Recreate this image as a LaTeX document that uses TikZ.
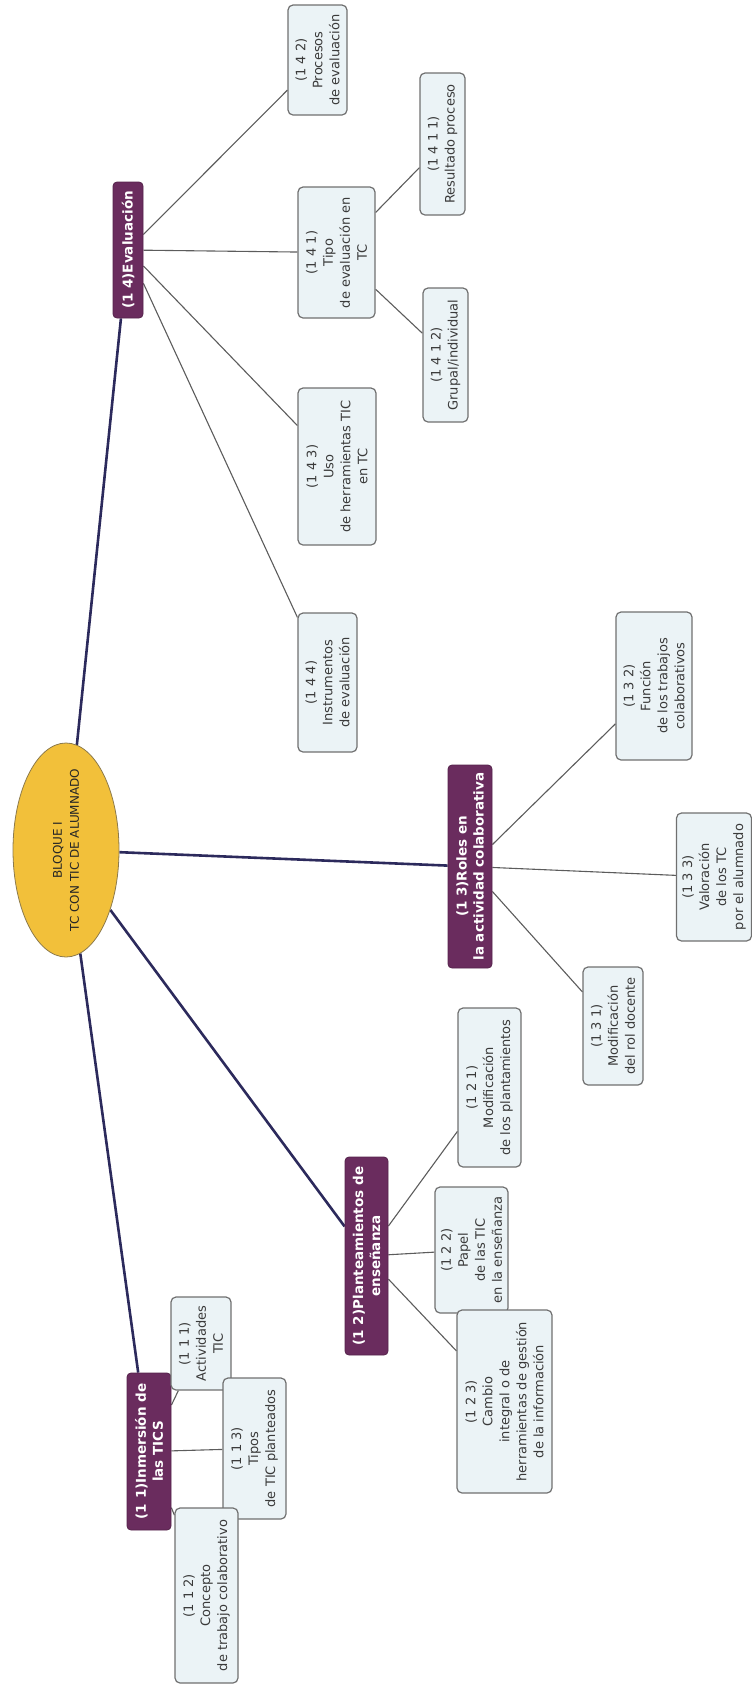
\documentclass[tikz,border=0pt]{standalone}
\usepackage{fontspec}
\setmainfont{DejaVu Sans}
\usetikzlibrary{shapes.geometric,backgrounds}

\definecolor{hub}{HTML}{F2C03A}
\definecolor{hubline}{HTML}{8C7A4C}
\definecolor{branch}{HTML}{6A2C5E}
\definecolor{leaf}{HTML}{EBF3F6}
\definecolor{leafline}{HTML}{707070}
\definecolor{trunk}{HTML}{2C2A5C}
\definecolor{twig}{HTML}{5C5C5C}
\definecolor{ink}{HTML}{3A3A3A}

\tikzset{
  % #1 = horizontal extent on the page, #2 = vertical extent (text runs upwards)
  sz/.style 2 args={minimum width=#2pt, minimum height=#1pt},
  hubnode/.style={ellipse, rotate=90, fill=hub, draw=hubline, line width=0.8pt,
    align=center, inner xsep=-10pt, inner ysep=0pt,
    font=\fontsize{12}{17}\selectfont, text=black!85},
  branchbox/.style={rectangle, rotate=90, rounded corners=4pt, fill=branch,
    draw=branch!80!black, line width=0.8pt, text=white, align=center,
    inner sep=1pt, font=\fontsize{13.5}{17}\selectfont\bfseries},
  leafbox/.style={rectangle, rotate=90, rounded corners=5pt, fill=leaf,
    draw=leafline, line width=1.2pt, text=ink, align=center, inner sep=1pt,
    font=\fontsize{13}{17}\selectfont},
  trunkline/.style={draw=trunk, line width=2.6pt},
  twigline/.style={draw=twig, line width=1.1pt},
}

\begin{document}
\begin{tikzpicture}[x=1pt, y=-1pt]
\useasboundingbox (0,0) rectangle (752,1690);

% central topic
\node[hubnode, sz={106}{214}] (E) at (66,850) {BLOQUE I\\TC CON TIC DE ALUMNADO};

% main branches
\node[branchbox, sz={30}{136}]  (H4) at (128,250)   {(1 4)Evaluación};
\node[branchbox, sz={44}{203}]  (H3) at (470,866.5) {(1 3)Roles en\\la actividad colaborativa};
\node[branchbox, sz={43}{198}]  (H2) at (366.5,1256) {(1 2)Planteamientos de\\enseñanza};
\node[branchbox, sz={44}{157}]  (H1) at (149,1451.5) {(1 1)Inmersión de\\las TICS};

% (1 4) subtopics
\node[leafbox, sz={59}{110}] (L142)  at (317.5,60)   {(1 4 2)\\Procesos\\de evaluación};
\node[leafbox, sz={77}{131}] (L141)  at (336.5,252.5) {(1 4 1)\\Tipo\\de evaluación en\\TC};
\node[leafbox, sz={45}{142}] (L1411) at (442.5,144)  {(1 4 1 1)\\Resultado proceso};
\node[leafbox, sz={45}{134}] (L1412) at (445.5,355)  {(1 4 1 2)\\Grupal/individual};
\node[leafbox, sz={78}{157}] (L143)  at (337,466.5)  {(1 4 3)\\Uso\\de herramientas TIC\\en TC};
\node[leafbox, sz={59}{139}] (L144)  at (327.5,682.5) {(1 4 4)\\Instrumentos\\de evaluación};

% (1 3) subtopics
\node[leafbox, sz={76}{148}] (L132) at (654,686)   {(1 3 2)\\Función\\de los trabajos\\colaborativos};
\node[leafbox, sz={75}{128}] (L133) at (714,877)   {(1 3 3)\\Valoración\\de los TC\\por el alumnado};
\node[leafbox, sz={60}{118}] (L131) at (613,1026)  {(1 3 1)\\Modificación\\del rol docente};

% (1 2) subtopics
\node[leafbox, sz={63}{159}] (L121) at (489.5,1087.5) {(1 2 1)\\Modificación\\de los plantamientos};
\node[leafbox, sz={73}{126}] (L122) at (471.5,1250)   {(1 2 2)\\Papel\\de las TIC\\en la enseñanza};
\node[leafbox, sz={95}{183}] (L123) at (504.5,1401.5) {(1 2 3)\\Cambio\\integral o de\\herramientas de gestión\\de la información};

% (1 1) subtopics
\node[leafbox, sz={60}{93}]  (L111) at (201,1343.5)   {(1 1 1)\\Actividades\\TIC};
\node[leafbox, sz={63}{141}] (L113) at (254.5,1448.5) {(1 1 3)\\Tipos\\de TIC planteados};
\node[leafbox, sz={63}{175}] (L112) at (206.5,1595.5) {(1 1 2)\\Concepto\\de trabajo colaborativo};

% connectors behind the boxes
\begin{scope}[on background layer]
  \path[trunkline] (E) -- (H4);
  \path[trunkline] (E) -- (H3);
  \path[trunkline] (E) -- (H2);
  \path[trunkline] (E) -- (H1);

  \path[twigline] (H4) -- (L142);
  \path[twigline] (H4) -- (L141);
  \path[twigline] (H4) -- (L143);
  \path[twigline] (H4) -- (L144);
  \path[twigline] (L141) -- (L1411);
  \path[twigline] (L141) -- (L1412);

  \path[twigline] (H3) -- (L132);
  \path[twigline] (H3) -- (L133);
  \path[twigline] (H3) -- (L131);

  \path[twigline] (H2) -- (L121);
  \path[twigline] (H2) -- (L122);
  \path[twigline] (H2) -- (L123);

  \path[twigline] (H1) -- (L111);
  \path[twigline] (H1) -- (L113);
  \path[twigline] (H1) -- (L112);
\end{scope}
\end{tikzpicture}
\end{document}
